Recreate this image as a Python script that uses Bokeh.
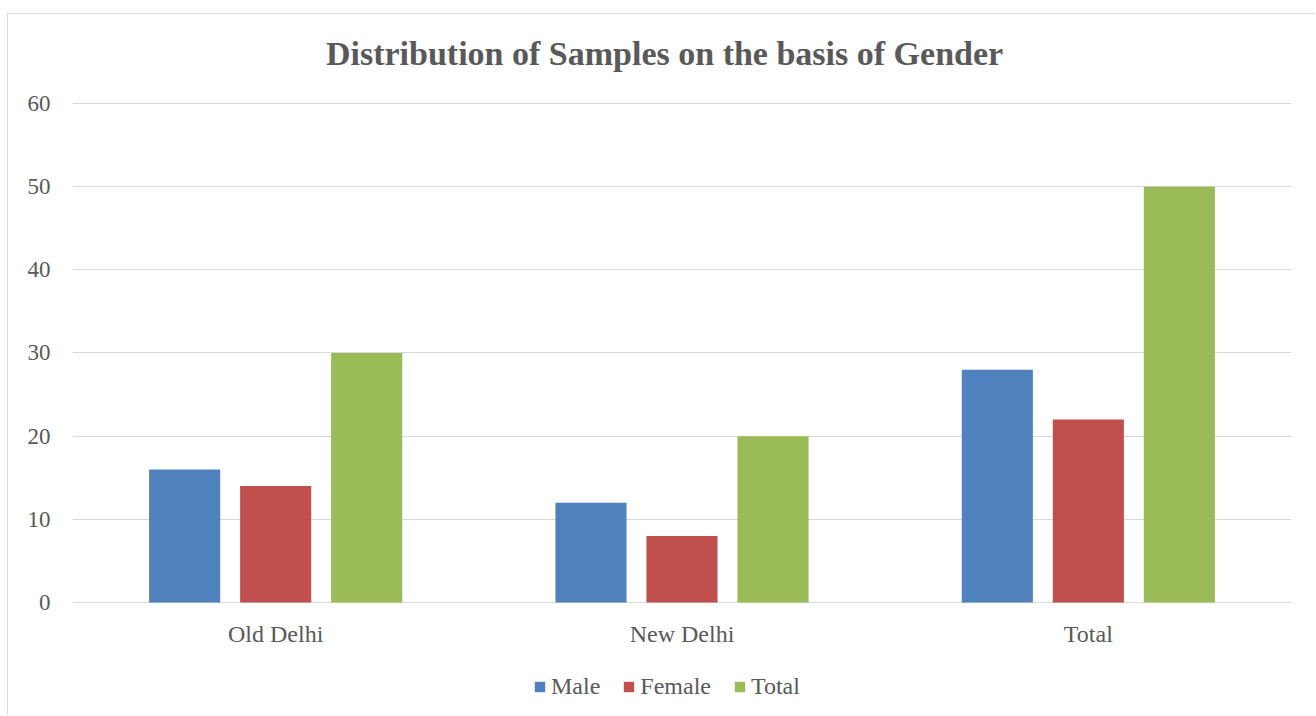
from bokeh.plotting import figure
from bokeh.models import (ColumnDataSource, Legend, LegendItem, Range1d, FactorRange,
                          FixedTicker)
from bokeh.transform import dodge
from bokeh.core.properties import value
from bokeh.embed import file_html
from bokeh.resources import INLINE

title_text = "Distribution of Samples on the basis of Gender"
regions = ["Old Delhi", "New Delhi", "Total"]
male = [16, 12, 28]
female = [14, 8, 22]
total = [30, 20, 50]
series_names = ["Male", "Female", "Total"]
series_colors = ["#4F81BD", "#C0504D", "#9BBB59"]
y_ticks = [0, 10, 20, 30, 40, 50, 60]

source = ColumnDataSource(data=dict(region=regions, Male=male, Female=female, Total=total))

FONT = "Liberation Serif"
TXT = "#595959"
GRID = "#d9d9d9"

# y range extends below zero and above 60 so the category labels, legend and
# title sit inside the frame
p = figure(x_range=FactorRange(*regions, range_padding=0), y_range=Range1d(-13.707, 70.70),
           width=1308, height=702, output_backend="svg", toolbar_location=None,
           min_border_left=64, min_border_right=25, min_border_top=0, min_border_bottom=0)
p.styles = {"border-left": "1px solid #d9d9d9", "border-top": "1px solid #d9d9d9",
            "margin-left": "7px", "margin-top": "13px"}

renderers = []
offsets = [-0.224, 0.0, 0.224]
for name, color, off in zip(series_names, series_colors, offsets):
    r = p.vbar(x=dodge("region", off, range=p.x_range), top=name, width=0.175,
               source=source, fill_color=color, line_color=None)
    renderers.append(r)

# category labels under the zero line
label_src = ColumnDataSource(data=dict(region=regions, y=[-3.73] * len(regions)))
p.text(x="region", y="y", text="region", source=label_src, text_align="center",
       text_baseline="middle", text_font=value(FONT), text_font_size="24px", text_color=TXT)

# chart title
title_src = ColumnDataSource(data=dict(x=[regions[1]], y=[66.0], t=[title_text]))
p.text(x=dodge("x", -0.043, range=p.x_range), y="y", text="t", source=title_src,
       text_align="center", text_baseline="middle", text_font=value(FONT),
       text_font_size="34px", text_font_style="bold", text_color=TXT)

p.outline_line_color = None
p.background_fill_color = "white"
p.border_fill_color = "white"

p.yaxis.ticker = FixedTicker(ticks=y_ticks)
p.yaxis.axis_line_color = None
p.yaxis.major_tick_line_color = None
p.yaxis.minor_tick_line_color = None
p.yaxis.major_label_text_font = FONT
p.yaxis.major_label_text_font_size = "23px"
p.yaxis.major_label_text_color = TXT
p.yaxis.major_label_standoff = 16

p.xaxis.visible = False
p.xgrid.grid_line_color = None
p.ygrid.grid_line_color = GRID
p.ygrid.grid_line_width = 1

legend = Legend(items=[LegendItem(label=n, renderers=[r]) for n, r in zip(series_names, renderers)],
                orientation="horizontal", location=(461, 16),
                label_text_font=FONT, label_text_font_size="24px", label_text_color=TXT,
                glyph_width=13, glyph_height=13, label_standoff=5, spacing=22,
                border_line_color=None, background_fill_alpha=0, margin=0, padding=0)
p.add_layout(legend, "center")

open("out.html", "w").write(file_html(p, INLINE))
